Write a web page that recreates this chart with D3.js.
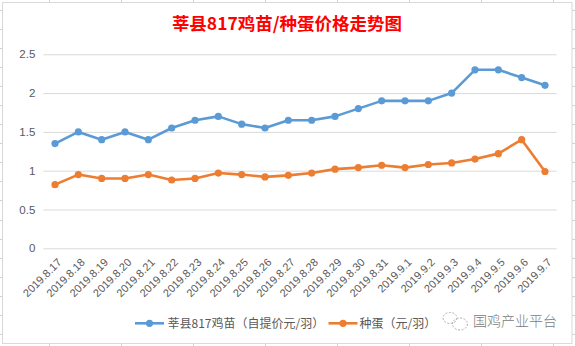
<!DOCTYPE html>
<html>
<head>
<meta charset="utf-8">
<script src="https://cdnjs.cloudflare.com/ajax/libs/d3/7.8.5/d3.min.js"></script>
<style>
  html, body { margin: 0; padding: 0; background: #fff; }
  svg { display: block; }
</style>
</head>
<body>
<script>
const categories = ["2019.8.17","2019.8.18","2019.8.19","2019.8.20","2019.8.21","2019.8.22","2019.8.23","2019.8.24","2019.8.25","2019.8.26","2019.8.27","2019.8.28","2019.8.29","2019.8.30","2019.8.31","2019.9.1","2019.9.2","2019.9.3","2019.9.4","2019.9.5","2019.9.6","2019.9.7"];
const chickValues = [1.35,1.5,1.4,1.5,1.4,1.55,1.65,1.7,1.6,1.55,1.65,1.65,1.7,1.8,1.9,1.9,1.9,2.0,2.3,2.3,2.2,2.1];
const eggValues = [0.82,0.95,0.9,0.9,0.95,0.88,0.9,0.97,0.95,0.92,0.94,0.97,1.02,1.04,1.07,1.04,1.08,1.1,1.15,1.22,1.4,0.99];
const yTicks = [0, 0.5, 1, 1.5, 2, 2.5];
const seriesNames = ["莘县817鸡苗（自提价元/羽）", "种蛋（元/羽）"];
const titleText = "莘县817鸡苗/种蛋价格走势图";
const watermarkText = "国鸡产业平台";

const W = 575, H = 346;
const svg = d3.select("body").append("svg").attr("width", W).attr("height", H);

// spreadsheet grid behind chart
const gridColor = "#d4d4d4";
for (let x = 49.5; x < W; x += 72) {
  svg.append("line").attr("x1", x).attr("x2", x).attr("y1", 0).attr("y2", H)
    .attr("stroke", gridColor).attr("stroke-width", 1);
}
for (let y = 9.5; y < H; y += 19.1) {
  svg.append("line").attr("x1", 0).attr("x2", W).attr("y1", Math.round(y) + 0.5).attr("y2", Math.round(y) + 0.5)
    .attr("stroke", gridColor).attr("stroke-width", 1);
}
// chart area
svg.append("rect").attr("x", 2.5).attr("y", 2.5).attr("width", 569.5).attr("height", 341)
  .attr("fill", "#fff").attr("stroke", "#d9d9d9").attr("stroke-width", 1);

// title
svg.append("text").attr("x", 287).attr("y", 30).attr("text-anchor", "middle")
  .attr("font-family", "'Noto Sans CJK SC', sans-serif").attr("font-weight", "bold")
  .attr("font-size", 17.5).attr("fill", "#ff0000").text(titleText);

const x = d3.scalePoint().domain(categories).range([55, 545]);
const y = d3.scaleLinear().domain([0, 2.5]).range([248.3, 54.3]);

// gridlines
const yAxis = d3.axisLeft(y).tickValues(yTicks).tickSize(-(556.7 - 43.3)).tickFormat(d3.format("~g")).tickPadding(8);
const gy = svg.append("g").attr("transform", "translate(43.3,0)").call(yAxis);
gy.select(".domain").remove();
gy.selectAll(".tick line").attr("stroke", "#d9d9d9").attr("stroke-width", 1);
gy.selectAll(".tick text").attr("font-family", "'Liberation Sans', Arial, sans-serif")
  .attr("font-size", 11.5).attr("fill", "#595959");

// x labels
const xAxis = d3.axisBottom(x).tickSize(0).tickPadding(0);
const gx = svg.append("g").attr("transform", "translate(0,248.3)").call(xAxis);
gx.select(".domain").remove();
gx.selectAll(".tick text")
  .attr("font-family", "'Liberation Sans', Arial, sans-serif")
  .attr("font-size", 11).attr("fill", "#595959")
  .attr("text-anchor", "end")
  .attr("dy", "0.35em").attr("y", 0)
  .attr("transform", "translate(4,12) rotate(-45)");

const line = d3.line().x((d, i) => x(categories[i])).y(d => y(d));
const colors = ["#5b9bd5", "#ed7d31"];
[chickValues, eggValues].forEach((vals, k) => {
  svg.append("path").datum(vals).attr("d", line).attr("fill", "none")
    .attr("stroke", colors[k]).attr("stroke-width", 2.6).attr("stroke-linejoin", "round");
  svg.selectAll(null).data(vals).enter().append("circle")
    .attr("cx", (d, i) => x(categories[i])).attr("cy", d => y(d)).attr("r", 3.6)
    .attr("fill", colors[k]);
});

// legend
const legendItems = [{x0: 135, tx: 167.5}, {x0: 328.5, tx: 359.5}];
legendItems.forEach((it, k) => {
  const ly = 323.3;
  svg.append("line").attr("x1", it.x0).attr("x2", it.x0 + 29).attr("y1", ly).attr("y2", ly)
    .attr("stroke", colors[k]).attr("stroke-width", 2.6);
  svg.append("circle").attr("cx", it.x0 + 14.5).attr("cy", ly).attr("r", 3.6).attr("fill", colors[k]);
  svg.append("text").attr("x", it.tx).attr("y", ly).attr("dy", "0.36em")
    .attr("font-family", "'Noto Sans CJK SC', sans-serif").attr("font-size", 12)
    .attr("fill", "#595959").text(seriesNames[k]);
});

// watermark
const wm = svg.append("g").attr("fill", "none").attr("stroke", "#b0b0b0").attr("stroke-width", 1).attr("stroke-dasharray", "2,1.5");
wm.append("ellipse").attr("cx", 450).attr("cy", 318).attr("rx", 7).attr("ry", 5.5);
wm.append("ellipse").attr("cx", 460).attr("cy", 324).attr("rx", 7.5).attr("ry", 6);
svg.append("text").attr("x", 473).attr("y", 321).attr("dy", "0.36em")
  .attr("font-family", "'Noto Sans CJK SC', sans-serif").attr("font-size", 14).attr("font-weight", 300)
  .attr("fill", "#7a7a7a").text(watermarkText);
</script>
</body>
</html>
